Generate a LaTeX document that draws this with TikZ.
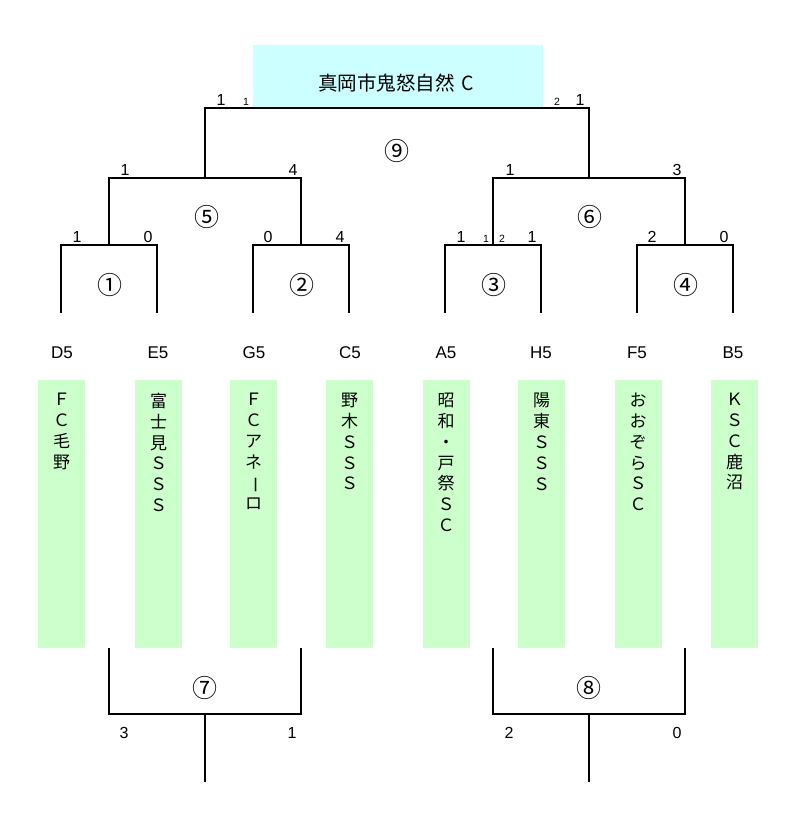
\documentclass[tikz,border=0pt]{standalone}
\usepackage{fontspec}
\setmainfont{Liberation Sans}
\newfontfamily\jp{Noto Sans CJK JP}
\definecolor{topc}{HTML}{CCFFFF}
\definecolor{teamc}{HTML}{CCFFCC}
\newcommand{\vbar}{\rotatebox[origin=c]{-90}{ー}}
\begin{document}
\begin{tikzpicture}[x=1pt,y=-1pt,
  br/.style={line width=2pt, line join=miter},
  score/.style={font=\fontsize{16}{16}\selectfont, inner sep=0},
  smallscore/.style={font=\fontsize{10.5}{10.5}\selectfont, inner sep=0},
  mnum/.style={font=\jp\fontsize{25}{25}\selectfont, inner sep=0},
  code/.style={font=\fontsize{17}{17}\selectfont, inner sep=0},
  teambox/.style={fill=teamc, minimum width=47pt, minimum height=268pt, inner sep=0, anchor=north},
  tname/.style={font=\jp\fontsize{17}{20.8}\selectfont, align=center, anchor=north, inner sep=0}]
\useasboundingbox (0,0) rectangle (800,824);
\fill[white] (0,0) rectangle (800,824);

% champion box
\node[fill=topc, minimum width=290pt, minimum height=63pt, inner sep=0] (champ) at (398,76.5) {};
\node[font=\jp\fontsize{19.5}{19.5}\selectfont, inner sep=0] (champtxt) at (396,83) {真岡市鬼怒自然\hspace{7pt}C};

% team boxes
\foreach \i/\x in {1/61.5,2/158.5,3/253.5,4/349.5,5/446,6/541.5,7/638,8/734.5}
  \node[teambox] (box\i) at (\x,380) {};

\node[tname] (n1) at (box1.north) [yshift=-13pt] {Ｆ\\Ｃ\\毛\\野};
\node[tname] (n2) at (box2.north) [yshift=-13pt] {富\\士\\見\\Ｓ\\Ｓ\\Ｓ};
\node[tname] (n3) at (box3.north) [yshift=-13pt] {Ｆ\\Ｃ\\ア\\ネ\\\vbar\\ロ};
\node[tname] (n4) at (box4.north) [yshift=-13pt] {野\\木\\Ｓ\\Ｓ\\Ｓ};
\node[tname] (n5) at (box5.north) [yshift=-13pt] {昭\\和\\・\\戸\\祭\\Ｓ\\Ｃ};
\node[tname] (n6) at (box6.north) [yshift=-13pt] {陽\\東\\Ｓ\\Ｓ\\Ｓ};
\node[tname] (n7) at (box7.north) [yshift=-13pt] {お\\お\\ぞ\\ら\\Ｓ\\Ｃ};
\node[tname] (n8) at (box8.north) [yshift=-13pt] {Ｋ\\Ｓ\\Ｃ\\鹿\\沼};

% codes
\node[code] (c1) at (62,353) {D5};
\node[code] (c2) at (158,353) {E5};
\node[code] (c3) at (254,353) {G5};
\node[code] (c4) at (350,353) {C5};
\node[code] (c5) at (446,353) {A5};
\node[code] (c6) at (541,353) {H5};
\node[code] (c7) at (637,353) {F5};
\node[code] (c8) at (733,353) {B5};

% bracket coordinates
\coordinate (L1) at (61,313);
\coordinate (L2) at (157,313);
\coordinate (L3) at (253,313);
\coordinate (L4) at (349,313);
\coordinate (L5) at (445,313);
\coordinate (L6) at (541,313);
\coordinate (L7) at (637,313);
\coordinate (L8) at (733,313);
\coordinate (m1) at (109,245);
\coordinate (m2) at (301,245);
\coordinate (m3) at (493,245);
\coordinate (m4) at (685,245);
\coordinate (s1) at (205,178);
\coordinate (s2) at (589,178);
\coordinate (fin) at (397,108);

\draw[br] (L1) |- (m1) -| (L2);
\draw[br] (L3) |- (m2) -| (L4);
\draw[br] (L5) |- (m3) -| (L6);
\draw[br] (L7) |- (m4) -| (L8);
\draw[br] (m1) |- (s1) -| (m2);
\draw[br] (m3) |- (s2) -| (m4);
\draw[br] (s1) |- (fin) -| (s2);

% bottom brackets
\coordinate (b1) at (109,648);
\coordinate (b2) at (301,648);
\coordinate (b3) at (493,648);
\coordinate (b4) at (685,648);
\coordinate (p7) at (205,714);
\coordinate (p8) at (589,714);
\coordinate (e7) at (205,782);
\coordinate (e8) at (589,782);
\draw[br] (b1) |- (p7) -| (b2);
\draw[br] (b3) |- (p8) -| (b4);
\draw[br] (p7) -- (e7);
\draw[br] (p8) -- (e8);

% match numbers
\node[mnum] (M1) at (110,285) {①};
\node[mnum] (M2) at (302,285) {②};
\node[mnum] (M3) at (494,285) {③};
\node[mnum] (M4) at (686,285) {④};
\node[mnum] (M5) at (207,217) {⑤};
\node[mnum] (M6) at (590,217) {⑥};
\node[mnum] (M7) at (205,688) {⑦};
\node[mnum] (M8) at (589,688) {⑧};
\node[mnum] (M9) at (397,151) {⑨};

% scores
\node[score] (sc1) at (221,100) {1};
\node[smallscore] (sc2) at (246,102) {1};
\node[smallscore] (sc3) at (557,102) {2};
\node[score] (sc4) at (580,100) {1};
\node[score] (sc5) at (125,170) {1};
\node[score] (sc6) at (293,170) {4};
\node[score] (sc7) at (510,170) {1};
\node[score] (sc8) at (677,170) {3};
\node[score] (sc9) at (77,237) {1};
\node[score] (sc10) at (148,237) {0};
\node[score] (sc11) at (268,237) {0};
\node[score] (sc12) at (340,237) {4};
\node[score] (sc13) at (461,237) {1};
\node[smallscore] (sc14) at (486,239) {1};
\node[smallscore] (sc15) at (502,239) {2};
\node[score] (sc16) at (532,237) {1};
\node[score] (sc17) at (652,237) {2};
\node[score] (sc18) at (724,237) {0};
\node[score] (sc19) at (124,733) {3};
\node[score] (sc20) at (292,733) {1};
\node[score] (sc21) at (509,733) {2};
\node[score] (sc22) at (677,733) {0};
\end{tikzpicture}
\end{document}
